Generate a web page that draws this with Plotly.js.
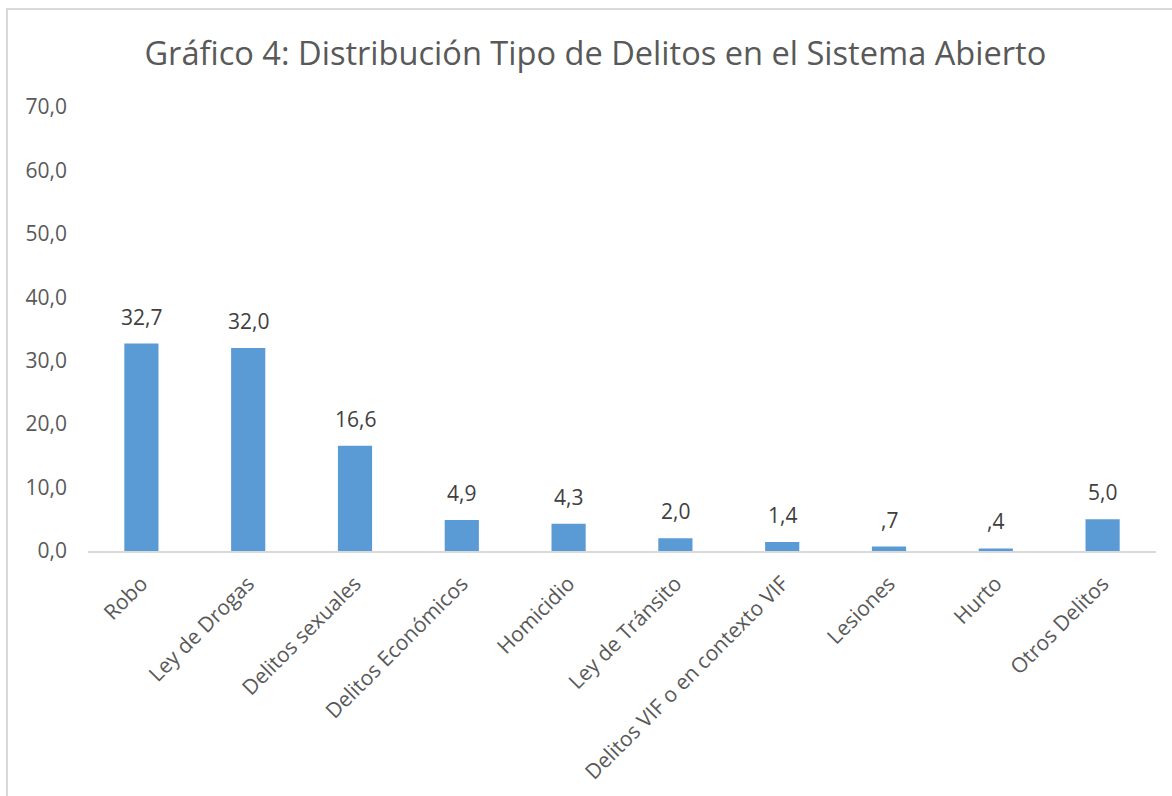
<!DOCTYPE html>
<html>
<head>
<meta charset="utf-8">
<script src="https://cdn.plot.ly/plotly-3.0.1.min.js"></script>
<style>
  html, body { margin: 0; padding: 0; background: #ffffff; }
  #wrap { position: relative; width: 1172px; height: 796px; overflow: hidden; }
  #frame { position: absolute; left: 6px; top: 8px; width: 1200px; height: 900px;
           border-left: 2px solid #d9d9d9; border-top: 2px solid #d9d9d9; pointer-events: none; }
  #chart { position: absolute; left: 0; top: 0; width: 1172px; height: 796px; }
</style>
</head>
<body>
<div id="wrap">
  <div id="chart"></div>
  <div id="frame"></div>
</div>
<script>
const categories = ["Robo", "Ley de Drogas", "Delitos sexuales", "Delitos Económicos", "Homicidio",
                    "Ley de Tránsito", "Delitos VIF o en contexto VIF", "Lesiones", "Hurto", "Otros Delitos"];
const values = [32.7, 32.0, 16.6, 4.9, 4.3, 2.0, 1.4, 0.7, 0.4, 5.0];
const yTickValues = [0, 10, 20, 30, 40, 50, 60, 70];
const yTickLabels = ["0,0", "10,0", "20,0", "30,0", "40,0", "50,0", "60,0", "70,0"];

function fmt(v) {
  let s = v.toFixed(1).replace('.', ',');
  if (s.startsWith('0,')) s = s.slice(1);
  return s;
}

const FONT = "Open Sans, Liberation Sans, sans-serif";

const trace = {
  type: 'bar',
  x: categories,
  y: values,
  marker: { color: '#5b9bd5' },
  hoverinfo: 'none'
};

const annotations = categories.map((c, i) => ({
  x: c, y: values[i], xref: 'x', yref: 'y',
  text: fmt(values[i]), showarrow: false,
  yanchor: 'bottom', yshift: 11,
  font: { family: FONT, size: 21, color: '#404040' }
}));

const layout = {
  width: 1172, height: 796,
  margin: { l: 88, r: 16, t: 107, b: 245 },
  paper_bgcolor: 'rgba(0,0,0,0)',
  plot_bgcolor: 'rgba(0,0,0,0)',
  showlegend: false,
  bargap: 0.68,
  title: {
    text: "Gráfico 4: Distribución Tipo de Delitos en el Sistema Abierto",
    font: { family: FONT, size: 32.6, color: '#595959' },
    x: 0.508, xanchor: 'center', y: 0.933, yanchor: 'middle'
  },
  xaxis: {
    type: 'category',
    tickangle: -45,
    tickfont: { family: FONT, size: 21, color: '#595959' },
    showline: true, linecolor: '#d9d9d9', linewidth: 2,
    showgrid: false, zeroline: false, ticks: '',
    ticklabelstandoff: 10
  },
  yaxis: {
    range: [0, 70],
    tickvals: yTickValues,
    ticktext: yTickLabels,
    tickfont: { family: FONT, size: 21, color: '#595959' },
    showgrid: false, zeroline: false, showline: false, ticks: '',
    ticklabelstandoff: 20
  },
  annotations: annotations
};

Plotly.newPlot('chart', [trace], layout, { displayModeBar: false, staticPlot: true });
</script>
</body>
</html>
